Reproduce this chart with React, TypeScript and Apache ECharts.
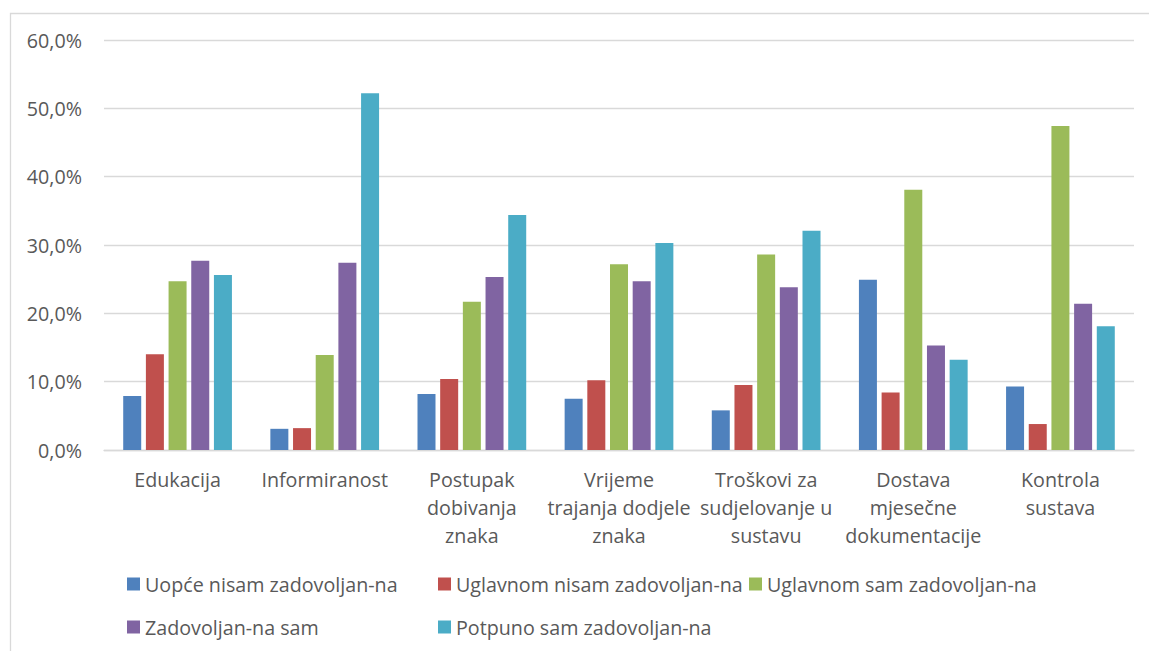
import React, { useEffect, useRef } from "react";
import * as echarts from "echarts";

const categories = [
  "Edukacija",
  "Informiranost",
  "Postupak\ndobivanja\nznaka",
  "Vrijeme\ntrajanja dodjele\nznaka",
  "Troškovi za\nsudjelovanje u\nsustavu",
  "Dostava\nmjesečne\ndokumentacije",
  "Kontrola\nsustava",
];

const seriesNames = [
  "Uopće nisam zadovoljan-na",
  "Uglavnom nisam zadovoljan-na",
  "Uglavnom sam zadovoljan-na",
  "Zadovoljan-na sam",
  "Potpuno sam zadovoljan-na",
];

const uopceNisam = [7.9, 3.1, 8.2, 7.5, 5.8, 24.9, 9.3];
const uglavnomNisam = [14.0, 3.2, 10.4, 10.2, 9.5, 8.4, 3.8];
const uglavnomSam = [24.7, 13.9, 21.7, 27.2, 28.6, 38.1, 47.4];
const zadovoljanSam = [27.7, 27.4, 25.3, 24.7, 23.8, 15.3, 21.4];
const potpunoSam = [25.6, 52.2, 34.4, 30.3, 32.1, 13.2, 18.1];

const seriesValues = [uopceNisam, uglavnomNisam, uglavnomSam, zadovoljanSam, potpunoSam];
const colors = ["#4F81BD", "#C0504D", "#9BBB59", "#8064A2", "#4BACC6"];

const legendPos = [
  { left: 122, top: 567 },
  { left: 433, top: 567 },
  { left: 744, top: 567 },
  { left: 122, top: 610 },
  { left: 433, top: 610 },
];

const FONT = "'Open Sans', sans-serif";
const TEXT = "#595959";
const FS = 19.7;

export default function App() {
  const ref = useRef<HTMLDivElement>(null);
  useEffect(() => {
    if (!ref.current) return;
    const chart = echarts.init(ref.current, undefined, { renderer: "svg" });
    chart.setOption({
      animation: false,
      color: colors,
      textStyle: { fontFamily: FONT },
      grid: { left: 104, right: 15, top: 40, bottom: 201, containLabel: false },
      graphic: [
        {
          type: "rect",
          shape: { x: 10.5, y: 13.5, width: 1300, height: 800 },
          style: { fill: "none", stroke: "#d9d9d9", lineWidth: 1.3 },
          silent: true,
        },
      ],
      legend: seriesNames.map((n, i) => ({
        data: [n],
        left: legendPos[i].left,
        top: legendPos[i].top,
        icon: "rect",
        itemWidth: 13,
        itemHeight: 13,
        itemGap: 0,
        selectedMode: false,
        textStyle: { fontFamily: FONT, fontSize: FS, color: TEXT, lineHeight: 24 },
      })),
      xAxis: {
        type: "category",
        data: categories,
        axisLine: { lineStyle: { color: "#d9d9d9", width: 1.3 } },
        axisTick: { show: false },
        axisLabel: {
          interval: 0,
          margin: 15,
          fontFamily: FONT,
          fontSize: FS,
          lineHeight: 28,
          color: TEXT,
          align: "center",
        },
      },
      yAxis: {
        type: "value",
        min: 0,
        max: 60,
        interval: 10,
        axisLine: { show: false },
        axisTick: { show: false },
        splitLine: { lineStyle: { color: "#d9d9d9", width: 1.3 } },
        axisLabel: {
          margin: 22,
          fontFamily: FONT,
          fontSize: FS,
          color: TEXT,
          formatter: (v: number) => v.toFixed(1).replace(".", ",") + "%",
        },
      },
      series: seriesNames.map((n, i) => ({
        name: n,
        type: "bar",
        data: seriesValues[i],
        barWidth: 18,
        barGap: "26%",
        itemStyle: { color: colors[i] },
      })),
    });
    return () => chart.dispose();
  }, []);
  return (
    <div
      ref={ref}
      style={{ position: "fixed", left: 0, top: 0, width: 1149, height: 651, background: "#fff" }}
    />
  );
}
